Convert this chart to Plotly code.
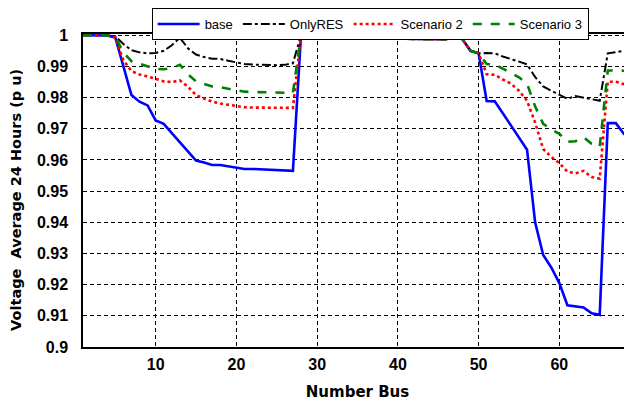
import plotly.graph_objects as go

bus = list(range(1, 70))

base = [1.0, 1.0, 1.0, 0.9999, 0.9993, 0.9901, 0.9808, 0.9787, 0.9775, 0.9727,
        0.9716, 0.9686, 0.9657, 0.9628, 0.9598, 0.9592, 0.9584, 0.9584, 0.9579, 0.9576,
        0.9571, 0.9571, 0.9570, 0.9568, 0.9566, 0.9566, 0.9565,
        1.0, 0.9999, 0.9998, 0.9998, 0.9996, 0.9994, 0.9991, 0.9990,
        1.0, 0.9998, 0.9996, 0.9996, 0.9995, 0.9989, 0.9988, 0.9988, 0.9988, 0.9987, 0.9987,
        0.9999, 0.9987, 0.9950, 0.9942,
        0.9789, 0.9788, 0.9750, 0.9712, 0.9670, 0.9633, 0.9400, 0.9295, 0.9255, 0.9205,
        0.9134, 0.9131, 0.9127, 0.9108, 0.9103, 0.9718, 0.9718, 0.9683, 0.9683]

only_res = [1.0, 1.0, 1.0, 1.0, 0.9997, 0.9972, 0.9952, 0.9945, 0.9942, 0.9943,
            0.9950, 0.9968, 0.9992, 0.9958, 0.9938, 0.9930, 0.9925, 0.9924, 0.9918, 0.9913,
            0.9908, 0.9906, 0.9905, 0.9905, 0.9904, 0.9905, 0.9910,
            1.0, 0.9999, 0.9998, 0.9998, 0.9997, 0.9994, 0.9991, 0.9990,
            1.0, 0.9998, 0.9996, 0.9996, 0.9995, 0.9989, 0.9988, 0.9988, 0.9988, 0.9987, 0.9987,
            0.9999, 0.9987, 0.9950, 0.9942,
            0.9943, 0.9942, 0.9932, 0.9924, 0.9916, 0.9907, 0.9866, 0.9836, 0.9822, 0.9808,
            0.9796, 0.9805, 0.9800, 0.9795, 0.9790, 0.9942, 0.9945, 0.9950, 0.9956]

scenario2 = [1.0, 1.0, 1.0, 1.0, 0.9993, 0.9920, 0.9885, 0.9874, 0.9868, 0.9860,
             0.9852, 0.9850, 0.9855, 0.9835, 0.9808, 0.9797, 0.9787, 0.9781, 0.9777, 0.9773,
             0.9769, 0.9768, 0.9768, 0.9767, 0.9767, 0.9767, 0.9767,
             1.0, 0.9999, 0.9998, 0.9998, 0.9997, 0.9994, 0.9991, 0.9990,
             1.0, 0.9998, 0.9996, 0.9996, 0.9995, 0.9989, 0.9988, 0.9988, 0.9988, 0.9987, 0.9987,
             0.9999, 0.9987, 0.9950, 0.9942,
             0.9875, 0.9873, 0.9858, 0.9845, 0.9822, 0.9790, 0.9720, 0.9635, 0.9610, 0.9590,
             0.9562, 0.9557, 0.9565, 0.9545, 0.9540, 0.9851, 0.9851, 0.9843, 0.9843]

scenario3 = [1.0, 1.0, 1.0, 1.0, 0.9995, 0.9945, 0.9917, 0.9908, 0.9900, 0.9892,
             0.9891, 0.9895, 0.9905, 0.9875, 0.9852, 0.9843, 0.9836, 0.9833, 0.9828, 0.9823,
             0.9819, 0.9818, 0.9817, 0.9816, 0.9815, 0.9815, 0.9815,
             1.0, 0.9999, 0.9998, 0.9998, 0.9997, 0.9994, 0.9991, 0.9990,
             1.0, 0.9998, 0.9996, 0.9996, 0.9995, 0.9989, 0.9988, 0.9988, 0.9988, 0.9987, 0.9987,
             0.9999, 0.9987, 0.9950, 0.9942,
             0.9908, 0.9906, 0.9893, 0.9880, 0.9865, 0.9845, 0.9772, 0.9716, 0.9698, 0.9684,
             0.9658, 0.9660, 0.9673, 0.9652, 0.9642, 0.9887, 0.9887, 0.9886, 0.9886]

series_names = ["base", "OnlyRES", "Scenario 2", "Scenario 3"]

x_ticks = [10, 20, 30, 40, 50, 60]
y_ticks = [0.9, 0.91, 0.92, 0.93, 0.94, 0.95, 0.96, 0.97, 0.98, 0.99, 1.0]
y_tick_labels = ["0.9", "0.91", "0.92", "0.93", "0.94", "0.95", "0.96", "0.97", "0.98", "0.99", "1"]

FONT = "Liberation Sans, Arial, sans-serif"
TITLE_FONT = "DejaVu Sans, Verdana, sans-serif"

fig = go.Figure()
styles = [
    dict(color="#0000FF", width=2.6, dash="solid"),
    dict(color="#000000", width=2.0, dash="dashdot"),
    dict(color="#FF0000", width=2.6, dash="dot"),
    dict(color="#008000", width=2.6, dash="dash"),
]
for name, vals, st in zip(series_names, [base, only_res, scenario2, scenario3], styles):
    fig.add_trace(go.Scatter(x=bus, y=vals, mode="lines", name=name, line=st))

grid = dict(showgrid=True, gridcolor="#000000", gridwidth=1, griddash="4px,3px")

fig.update_layout(
    width=624, height=397,
    margin=dict(l=75, r=0, t=26, b=58, autoexpand=False),
    paper_bgcolor="white", plot_bgcolor="white",
    font=dict(family=FONT, color="#000000"),
    showlegend=True,
    legend=dict(orientation="h", x=0.125, y=1.083, xanchor="left", yanchor="top",
                bordercolor="#000000", borderwidth=1, bgcolor="white",
                font=dict(family=FONT, size=13, color="#000000"),
                itemwidth=42, tracegroupgap=0),
    xaxis=dict(range=[1, 69], tickvals=x_ticks, ticks="", showline=True, linecolor="#000000",
               linewidth=1.5, mirror=True, zeroline=False, automargin=False,
               ticklabelstandoff=2,
               tickfont=dict(family=FONT, size=16, color="#000000", weight="bold"),
               title=dict(text="Number Bus", font=dict(family=TITLE_FONT, size=15, weight="bold"), standoff=15),
               **grid),
    yaxis=dict(range=[0.9, 1.0004], tickvals=y_ticks, ticktext=y_tick_labels, ticks="",
               showline=True, linecolor="#000000", linewidth=1.5, mirror=True, zeroline=False,
               ticklabelstandoff=10, automargin=False,
               tickfont=dict(family=FONT, size=16, color="#000000", weight="bold"),
               **grid),
    annotations=[dict(text="Voltage  Average 24 Hours (p u)", textangle=-90,
                      xref="paper", yref="paper", x=-0.122, y=0.47,
                      xanchor="center", yanchor="middle", showarrow=False,
                      font=dict(family=TITLE_FONT, size=14.5, weight="bold", color="#000000"))],
)

fig.write_html("out.html")
